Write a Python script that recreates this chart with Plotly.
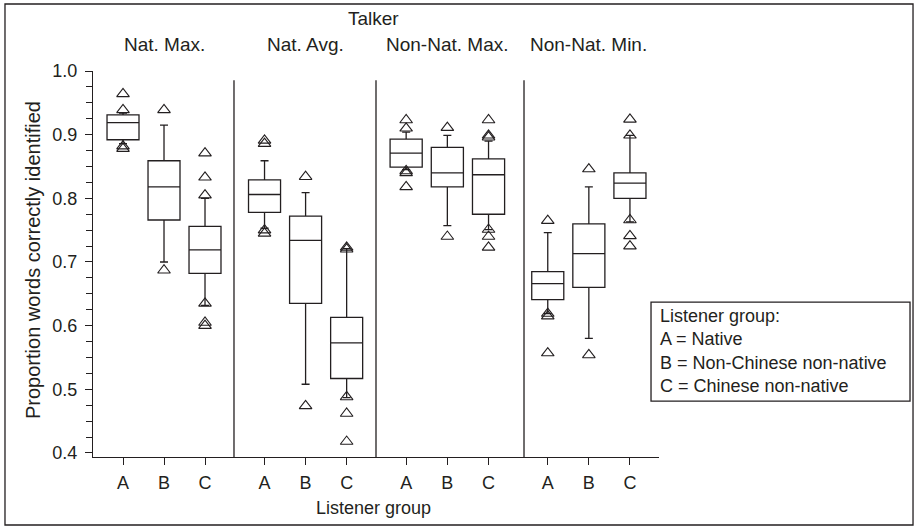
import plotly.graph_objects as go

talkers = ["Nat. Max.", "Nat. Avg.", "Non-Nat. Max.", "Non-Nat. Min."]
groups = ["A", "B", "C"]

# five-number summaries per talker (order A, B, C)
lower_whisker = [[0.886, 0.700, 0.632], [0.753, 0.508, 0.487], [0.845, 0.757, 0.751], [0.619, 0.580, 0.763]]
q1_vals       = [[0.892, 0.766, 0.682], [0.778, 0.635, 0.517], [0.849, 0.818, 0.775], [0.641, 0.660, 0.800]]
median_vals   = [[0.919, 0.818, 0.719], [0.806, 0.734, 0.573], [0.871, 0.840, 0.837], [0.666, 0.713, 0.824]]
q3_vals       = [[0.931, 0.859, 0.756], [0.829, 0.772, 0.613], [0.893, 0.880, 0.862], [0.685, 0.760, 0.840]]
upper_whisker = [[0.934, 0.915, 0.800], [0.859, 0.809, 0.721], [0.904, 0.899, 0.890], [0.746, 0.818, 0.899]]

# outliers per talker, per listener group
outliers = [
    [[0.964, 0.939, 0.882, 0.878], [0.939, 0.687], [0.871, 0.833, 0.805, 0.635, 0.605, 0.600]],
    [[0.891, 0.886, 0.750, 0.745], [0.834, 0.474], [0.723, 0.720, 0.488, 0.462, 0.418]],
    [[0.923, 0.910, 0.843, 0.840, 0.818], [0.911, 0.740], [0.923, 0.899, 0.896, 0.751, 0.740, 0.723]],
    [[0.765, 0.619, 0.615, 0.557], [0.846, 0.554], [0.924, 0.899, 0.766, 0.741, 0.725]],
]

y_ticks = [0.4, 0.5, 0.6, 0.7, 0.8, 0.9, 1.0]
legend_lines = ["Listener group:", "A = Native", "B = Non-Chinese non-native", "C = Chinese non-native"]

FONT = "Liberation Sans, Arial, Helvetica, sans-serif"
INK = "#231f20"
LW = 1.3

domains = [[0.0, 0.2491], [0.2491, 0.5], [0.5, 0.7615], [0.7615, 1.0]]
ranges = [[-0.732, 2.707], [-0.744, 2.715], [-0.732, 2.861], [-0.578, 2.707]]

fig = go.Figure()
for i in range(4):
    xa = "x" if i == 0 else f"x{i+1}"
    fig.add_trace(go.Box(
        x=groups, q1=q1_vals[i], median=median_vals[i], q3=q3_vals[i],
        lowerfence=lower_whisker[i], upperfence=upper_whisker[i],
        boxpoints=False, width=0.78, whiskerwidth=0.25,
        fillcolor="white", line=dict(color=INK, width=LW),
        xaxis=xa, yaxis="y", showlegend=False, hoverinfo="skip",
    ))
    ox, oy = [], []
    for g, vals in zip(groups, outliers[i]):
        ox += [g] * len(vals)
        oy += vals
    fig.add_trace(go.Scatter(
        x=ox, y=oy, mode="markers",
        marker=dict(symbol="triangle-up-open", size=11, color=INK, line=dict(width=1.1, color=INK)),
        xaxis=xa, yaxis="y", showlegend=False, hoverinfo="skip",
    ))

layout = dict(
    width=919, height=532,
    margin=dict(l=93, r=260, t=71, b=75),
    paper_bgcolor="white", plot_bgcolor="white",
    font=dict(family=FONT, size=18, color=INK),
    showlegend=False,
    yaxis=dict(
        range=[0.3937, 1.0], tickvals=y_ticks, ticktext=[f"{v:.1f}" for v in y_ticks],
        ticks="outside", ticklen=7, tickwidth=LW, tickcolor=INK,
        minor=dict(dtick=0.025, tick0=0.4, ticks="outside", ticklen=6, tickwidth=LW, tickcolor=INK),
        showline=True, linecolor=INK, linewidth=LW, showgrid=False, zeroline=False,
        anchor="x", ticklabelstandoff=4, tickfont=dict(size=18),
    ),
)
for i in range(4):
    key = "xaxis" if i == 0 else f"xaxis{i+1}"
    layout[key] = dict(
        domain=domains[i], type="category", categoryorder="array", categoryarray=groups,
        range=ranges[i], ticks="outside", ticklen=7, tickwidth=LW, tickcolor=INK,
        showline=True, linecolor=INK, linewidth=LW, showgrid=False, zeroline=False,
        anchor="y", ticklabelstandoff=2, tickfont=dict(size=18),
    )
fig.update_layout(**layout)

shapes = []
# panel separators
for i in range(1, 4):
    shapes.append(dict(type="line", xref=f"x{i+1} domain", yref="y", x0=0, x1=0, y0=0.3937, y1=0.9856,
                       line=dict(color=INK, width=LW)))
# outer frame
shapes.append(dict(type="rect", xref="paper", yref="paper", x0=-0.1555, x1=1.4488, y0=-0.1762, y1=1.1736,
                   line=dict(color=INK, width=LW)))
# legend box
shapes.append(dict(type="rect", xref="paper", yref="paper", x0=0.9859, x1=1.4435, y0=0.145, y1=0.401,
                   line=dict(color=INK, width=LW), fillcolor="white"))
fig.update_layout(shapes=shapes)

ann = []
ann.append(dict(text="Talker", xref="paper", yref="paper", x=0.4947, y=(457 - 19) / 386, showarrow=False,
                xanchor="center", yanchor="middle", font=dict(size=19)))
for i, t in enumerate(talkers):
    xr = "x" if i == 0 else f"x{i+1}"
    ann.append(dict(text=t, xref=xr, yref="paper", x=1, y=(457 - 45) / 386, showarrow=False,
                    xanchor="center", yanchor="middle", font=dict(size=19)))
ann.append(dict(text="Listener group", xref="paper", yref="paper", x=0.4947, y=(457 - 508) / 386, showarrow=False,
                xanchor="center", yanchor="middle", font=dict(size=18)))
ann.append(dict(text="Proportion words correctly identified", xref="paper", yref="paper", x=(33 - 93) / 566,
                y=(457 - 260) / 386, showarrow=False, textangle=-90, xanchor="center", yanchor="middle",
                font=dict(size=20)))
ann.append(dict(text="<br>".join(legend_lines), xref="paper", yref="paper", x=(658 - 93) / 566,
                y=(457 - 351) / 386, showarrow=False, xanchor="left", yanchor="middle", align="left",
                font=dict(size=18)))
fig.update_layout(annotations=ann)

fig.write_html("out.html", config={"displayModeBar": False},
               post_script="document.body.style.margin='0px';")
